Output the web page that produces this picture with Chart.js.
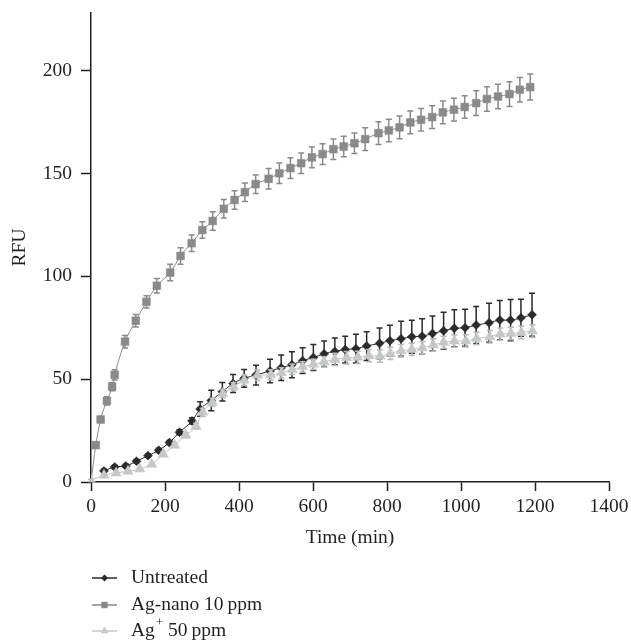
<!DOCTYPE html>
<html>
<head>
<meta charset="utf-8">
<script src="https://cdn.jsdelivr.net/npm/chart.js@4.4.0/dist/chart.umd.min.js"></script>
<style>
  html, body { margin: 0; padding: 0; background: #fff; }
  #wrap { width: 631px; height: 642px; }
</style>
</head>
<body>
<div id="wrap"><canvas id="myChart"></canvas></div>
<script>
// time (min), RFU, +/- error
var untTime = [35, 64, 94, 123, 154, 183, 212, 239, 273, 295, 325, 355, 384, 414, 446, 484, 514, 543, 572, 601,
               630, 659, 687, 716, 745, 780, 808, 838, 867, 895, 923, 953, 982, 1011, 1041, 1076, 1105, 1134, 1162, 1192];
var untRFU = [5.4, 7.3, 7.8, 10.1, 12.8, 15.4, 19.2, 24.2, 29.7, 35.5, 39.6, 43.9, 47.9, 50.4, 52.0, 54.0, 55.5, 57.0, 59.0, 60.5,
              62.3, 63.5, 64.4, 64.8, 66.1, 67.4, 68.7, 69.6, 70.6, 70.9, 72.2, 73.5, 74.7, 75.0, 76.3, 77.4, 78.7, 78.7, 79.8, 81.3];
var untErr = [0.8, 0.8, 0.8, 0.8, 0.8, 1, 1, 1.2, 1.5, 3.5, 5, 4.5, 4.4, 4.3, 4.8, 5.7, 6.2, 6.3, 6.3, 6.3,
              6.2, 6.5, 6.5, 7, 7, 7.5, 7.5, 8.5, 8, 8.5, 8.5, 9, 9, 9, 9, 9.5, 9.5, 10, 9, 10.5];

var nanoTime = [0, 13, 26, 43, 57, 64, 92, 121, 150, 178, 214, 242, 272, 301, 329, 359, 388, 416, 445, 480, 509, 539,
                568, 597, 626, 655, 683, 712, 741, 777, 805, 834, 863, 892, 922, 951, 981, 1010, 1041, 1070, 1100, 1131, 1159, 1187];
var nanoRFU = [0, 17.9, 30.4, 39.4, 46.3, 52.1, 68.2, 78.4, 87.6, 95.4, 101.8, 109.9, 116.1, 122.5, 126.9, 132.8, 137.1, 140.9, 144.8, 147.4, 150.1, 152.6,
               155.0, 157.8, 159.4, 161.8, 163.1, 164.7, 166.7, 169.6, 170.9, 172.4, 174.8, 176.1, 177.4, 179.7, 181.0, 182.3, 184.2, 186.2, 187.4, 188.6, 190.7, 192.0];
var nanoErr = [0, 1.5, 1.5, 2, 2, 2.5, 3, 3, 3, 3.5, 4, 4, 4, 4, 4.5, 4.5, 4.5, 4.5, 4.5, 5, 5, 5,
               5, 5, 5, 5, 5, 5, 5.5, 5.5, 5.5, 5.5, 5.5, 5.5, 5.5, 5.5, 5.5, 5.5, 6, 6, 6, 6, 6, 6.3];

var agTime = [0, 35, 68, 100, 132, 164, 195, 226, 256, 284, 302, 328, 356, 385, 414, 450, 486, 515, 544, 572, 601,
              630, 659, 691, 721, 751, 781, 809, 838, 867, 896, 925, 953, 982, 1013, 1042, 1078, 1106, 1135, 1163, 1193];
var agRFU = [0.8, 3.3, 4.4, 5.2, 6.3, 8.6, 13.5, 17.9, 22.7, 27.1, 33.9, 38.7, 43.0, 46.3, 49.5, 51.9, 52.1, 53.1, 54.7, 56.0, 57.2,
             58.4, 59.6, 60.4, 60.6, 61.4, 61.2, 62.5, 63.8, 64.5, 65.3, 66.6, 67.9, 68.5, 68.6, 69.8, 70.6, 71.9, 72.2, 72.7, 73.4];
var agErr = [0.5, 0.5, 0.5, 0.5, 0.5, 0.8, 1, 1, 1.2, 1.5, 2, 2, 2, 2, 2.5, 2.5, 2.5, 2.5, 2.5, 2.5, 2.5,
             2.5, 3, 3, 3, 3, 3, 3, 3, 3, 3, 3, 3, 3, 3, 3, 3, 3, 3, 3, 3];

var xTicks = [0, 200, 400, 600, 800, 1000, 1200, 1400];
var yTicks = [0, 50, 100, 150, 200];

var seriesNames = ['Untreated', 'Ag-nano 10\u2009ppm', 'Ag\u207a 50\u2009ppm'];

var ink = '#231f20';
var font = { family: "'Liberation Serif', 'Times New Roman', serif", size: 19.5 };

function points(xs, ys, es) {
    return xs.map(function (x, i) { return { x: x, y: ys[i], err: es[i] }; });
}

// error bars drawn just before each dataset so markers sit on top
var errorBars = {
    id: 'errorBars',
    beforeDatasetDraw: function (chart, args) {
        var ds = chart.data.datasets[args.index];
        var y = chart.scales.y;
        var c = chart.ctx;
        c.save();
        c.strokeStyle = ds.errColor;
        c.lineWidth = 1.5;
        args.meta.data.forEach(function (pt, i) {
            var d = ds.data[i];
            if (!d.err) return;
            var top = y.getPixelForValue(d.y + d.err);
            var bot = y.getPixelForValue(d.y - d.err);
            c.beginPath();
            c.moveTo(pt.x, top); c.lineTo(pt.x, bot);
            c.moveTo(pt.x - 3, top); c.lineTo(pt.x + 3, top);
            c.moveTo(pt.x - 3, bot); c.lineTo(pt.x + 3, bot);
            c.stroke();
        });
        c.restore();
    }
};

// stacked legend under the axis: line + marker + label
var stackLegend = {
    id: 'stackLegend',
    afterDraw: function (chart) {
        var c = chart.ctx;
        var rows = [578, 605, 631];
        c.save();
        chart.data.datasets.forEach(function (ds, i) {
            var yy = rows[i];
            c.strokeStyle = ds.borderColor;
            c.lineWidth = 1.5;
            c.beginPath(); c.moveTo(92, yy); c.lineTo(117, yy); c.stroke();
            c.fillStyle = ds.pointBackgroundColor;
            Chart.helpers.drawPoint(c, { pointStyle: ds.pointStyle, radius: ds.legendRadius, rotation: 0, borderWidth: 0 }, 104.5, yy);

            c.fillStyle = ink;
            c.textBaseline = 'middle';
            c.font = font.size + 'px ' + font.family;
            var parts = ds.label.split('\u207a');
            var x = 131;
            c.fillText(parts[0], x, yy);
            x += c.measureText(parts[0]).width;
            if (parts.length > 1) {
                c.font = '13px ' + font.family;
                c.fillText('+', x + 1, yy - 8);
                x += c.measureText('+').width + 1;
                c.font = font.size + 'px ' + font.family;
                c.fillText(parts[1], x, yy);
            }
        });
        c.restore();
    }
};

var ctx = document.getElementById('myChart').getContext('2d');
var chart = new Chart(ctx, {
    type: 'line',
    data: {
        datasets: [{
            label: seriesNames[0],
            data: points(untTime, untRFU, untErr),
            borderColor: '#2b2b2b',
            pointBackgroundColor: '#2b2b2b',
            pointBorderColor: '#2b2b2b',
            errColor: '#2b2b2b',
            pointStyle: 'rectRot',
            pointRadius: 4.5,
            legendRadius: 3.5,
            order: 3
        }, {
            label: seriesNames[1],
            data: points(nanoTime, nanoRFU, nanoErr),
            borderColor: '#8a8a8a',
            pointBackgroundColor: '#8a8a8a',
            pointBorderColor: '#8a8a8a',
            errColor: '#8a8a8a',
            pointStyle: 'rect',
            pointRadius: function (c) { return c.dataIndex === 0 ? 0 : 5.5; },
            legendRadius: 4.5,
            order: 2
        }, {
            label: seriesNames[2],
            data: points(agTime, agRFU, agErr),
            borderColor: '#c6c8c8',
            pointBackgroundColor: '#c6c8c8',
            pointBorderColor: '#c6c8c8',
            errColor: '#b8baba',
            pointStyle: 'triangle',
            pointRadius: 6,
            legendRadius: 4.5,
            order: 1
        }]
    },
    options: {
        responsive: true,
        maintainAspectRatio: false,
        animation: false,
        datasets: {
            line: {
                borderWidth: 1,
                tension: 0.4,
                cubicInterpolationMode: 'monotone',
                pointBorderWidth: 0.5,
                fill: false
            }
        },
        layout: { padding: { left: 0, right: 22, top: 13, bottom: 88 } },
        plugins: {
            legend: { display: false },
            tooltip: { enabled: false }
        },
        scales: {
            x: {
                type: 'linear',
                min: 0,
                max: 1400,
                afterBuildTicks: function (s) { s.ticks = xTicks.map(function (v) { return { value: v }; }); },
                afterFit: function (s) { s.height = 72; s.paddingLeft = 0; s.paddingRight = 0; },
                ticks: { font: font, color: ink, padding: 4, maxRotation: 0, callback: function (v) { return String(v); } },
                grid: { drawOnChartArea: false, tickLength: 9, tickColor: ink, tickWidth: 1.5 },
                border: { color: ink, width: 1.5 },
                title: { display: true, text: 'Time (min)', font: font, color: ink, padding: { top: 6, bottom: 4 } }
            },
            y: {
                min: 0,
                max: 228,
                afterBuildTicks: function (s) { s.ticks = yTicks.map(function (v) { return { value: v }; }); },
                afterFit: function (s) { s.width = 91; s.paddingTop = 0; s.paddingBottom = 0; },
                ticks: { font: font, color: ink, padding: 9, callback: function (v) { return String(v); } },
                grid: { drawOnChartArea: false, tickLength: 10, tickColor: ink, tickWidth: 1.5 },
                border: { color: ink, width: 1.5 },
                title: { display: true, text: 'RFU', font: font, color: ink, padding: { top: 8, bottom: 4 } }
            }
        }
    },
    plugins: [errorBars, stackLegend]
});
</script>
</body>
</html>
